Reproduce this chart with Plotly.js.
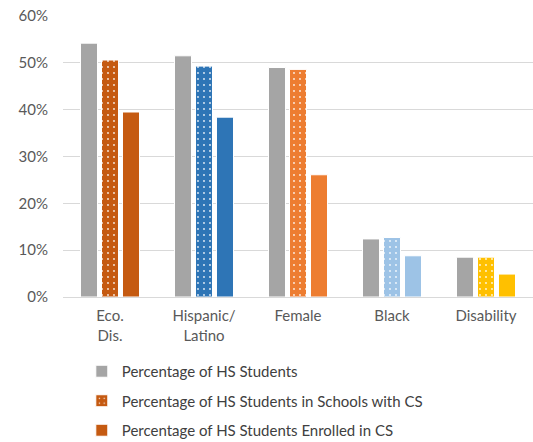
<!DOCTYPE html>
<html>
<head>
<meta charset="utf-8">
<script src="https://cdn.plot.ly/plotly-3.0.1.min.js"></script>
<style>html,body{margin:0;padding:0;background:#fff;overflow:hidden;}#chart{width:533px;height:452px;}</style>
</head>
<body>
<div id="chart"></div>
<script>
const categories = ["Eco.<br>Dis.", "Hispanic/<br>Latino", "Female", "Black", "Disability"];
const hsStudents = [54.2, 51.5, 49.0, 12.4, 8.5];
const hsInSchoolsWithCS = [50.6, 49.3, 48.6, 12.7, 8.5];
const hsEnrolledInCS = [39.5, 38.4, 26.1, 8.8, 4.9];
const groupColors = ["#C55A11", "#2E75B6", "#ED7D31", "#9DC3E6", "#FFC000"];
const grayColor = "#A5A5A5";
const seriesNames = ["Percentage of HS Students", "Percentage of HS Students in Schools with CS", "Percentage of HS Students Enrolled in CS"];

const font = "Lato, 'Open Sans', sans-serif";
const line = {color: "#ffffff", width: 1};

const traces = [];
traces.push({type: "bar", x: categories, y: hsStudents, name: seriesNames[0], legendgroup: "a",
   offsetgroup: "1", marker: {color: grayColor, line: line}});
// dotted series: one trace per category so each bar gets its own patterned fill colour
categories.forEach(function (cat, i) {
  traces.push({type: "bar", x: [cat], y: [hsInSchoolsWithCS[i]], name: seriesNames[1], legendgroup: "b",
    showlegend: i === 0, offsetgroup: "2",
    marker: {color: groupColors[i], line: line,
             pattern: {shape: ".", fillmode: "replace", bgcolor: groupColors[i], fgcolor: "#ffffff",
                       fgopacity: 0.9, size: 6, solidity: 0.07}}});
});
traces.push({type: "bar", x: categories, y: hsEnrolledInCS, name: seriesNames[2], legendgroup: "c",
   offsetgroup: "3", marker: {color: groupColors, line: line}});

const layout = {
  width: 533, height: 452,
  margin: {l: 63, r: 0, t: 16, b: 0},
  paper_bgcolor: "#ffffff", plot_bgcolor: "#ffffff",
  barmode: "group", bargap: 0.33, bargroupgap: 0.19,
  font: {family: font, size: 15, color: "#595959"},
  showlegend: true,
  legend: {orientation: "v", x: 0.04, xanchor: "left", y: 0.2225, yanchor: "top",
           font: {family: font, size: 15, color: "#404040"}, tracegroupgap: 7, traceorder: "grouped"},
  xaxis: {type: "category", showgrid: false, zeroline: false, showline: false, ticks: "",
          categoryorder: "array", categoryarray: categories,
          tickfont: {family: font, size: 15, color: "#595959"}, ticklabelstandoff: 8, fixedrange: true},
  yaxis: {domain: [0.3555, 1], range: [0, 60], dtick: 10, ticksuffix: "%", showgrid: true, gridcolor: "#D9D9D9", gridwidth: 1,
          zeroline: true, zerolinecolor: "#D9D9D9", zerolinewidth: 1, showline: false, ticks: "",
          tickfont: {family: font, size: 15, color: "#595959"}, ticklabelstandoff: 14, fixedrange: true}
};

Plotly.newPlot("chart", traces, layout, {displayModeBar: false, staticPlot: true});
</script>
</body>
</html>
